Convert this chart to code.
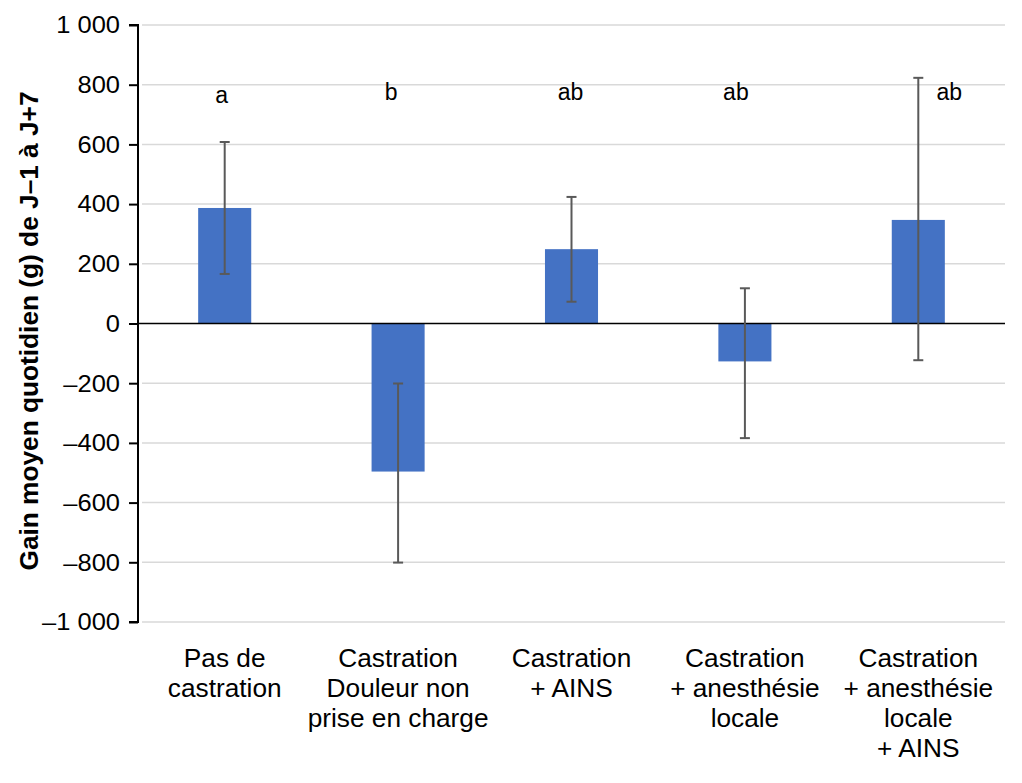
<!DOCTYPE html>
<html>
  <head>
    <meta charset="utf-8" />
    <title>Gain moyen quotidien</title>
    <script src="https://d3js.org/d3.v7.min.js"></script>
    <style>
      body {
        margin: 0;
        background: #fff;
        font-family: 'Liberation Sans', Arial, sans-serif;
      }
      .tick text {
        font-size: 24.5px;
        fill: #000;
      }
      .cat-label {
        font-size: 25px;
        fill: #000;
      }
      .letter {
        font-size: 23px;
        fill: #000;
      }
    </style>
  </head>
  <body>
    <div id="chart"></div>
    <script>
      // données
      const categories = [
        ['Pas de', 'castration'],
        ['Castration', 'Douleur non', 'prise en charge'],
        ['Castration', '+ AINS'],
        ['Castration', '+ anesthésie', 'locale'],
        ['Castration', '+ anesthésie', 'locale', '+ AINS'],
      ];
      const means = [387, -496, 249, -127, 347];
      const errLow = [166, -201, 73, -384, -123];
      const errHigh = [608, -801, 424, 118, 823];
      const letters = ['a', 'b', 'ab', 'ab', 'ab'];
      const yTicks = [-1000, -800, -600, -400, -200, 0, 200, 400, 600, 800, 1000];

      const width = 1022;
      const height = 783;
      const margin = { top: 25, right: 17, bottom: 161, left: 138 };
      const tickStretch = 1.04;
      const catStretch = 1.05;

      const svg = d3
        .select('#chart')
        .append('svg')
        .attr('width', width)
        .attr('height', height);

      const x = d3
        .scaleBand()
        .domain(d3.range(categories.length))
        .range([margin.left, width - margin.right])
        .paddingInner(0.694)
        .paddingOuter(0.347);

      const y = d3
        .scaleLinear()
        .domain([-1000, 1000])
        .range([height - margin.bottom, margin.top]);

      const fmt = (v) => {
        const s = d3.format(',')(Math.abs(v)).replace(/,/g, ' ');
        return v < 0 ? '–' + s : s;
      };

      // grille
      svg
        .append('g')
        .selectAll('line')
        .data(yTicks.filter((d) => d !== 0))
        .join('line')
        .attr('x1', margin.left + 4)
        .attr('x2', width - margin.right)
        .attr('y1', (d) => y(d))
        .attr('y2', (d) => y(d))
        .attr('stroke', '#d9d9d9')
        .attr('stroke-width', 1.5);

      // axe Y
      const yAxis = svg
        .append('g')
        .attr('transform', `translate(${margin.left},0)`)
        .call(
          d3
            .axisLeft(y)
            .tickValues(yTicks)
            .tickFormat(fmt)
            .tickSize(9)
            .tickPadding(9),
        );
      yAxis.select('.domain').attr('stroke', '#000').attr('stroke-width', 2);
      yAxis.selectAll('.tick line').attr('stroke', '#000').attr('stroke-width', 2);
      yAxis
        .selectAll('.tick text')
        .style('font-family', "'Liberation Sans', Arial, sans-serif")
        .attr('x', -18 / tickStretch)
        .attr('transform', `scale(${tickStretch},1)`);
      yAxis.select('.domain').attr('d', `M-9,${y(1000)}H0V${y(-1000)}H-9`);

      // barres
      svg
        .append('g')
        .selectAll('rect')
        .data(means)
        .join('rect')
        .attr('x', (d, i) => x(i))
        .attr('width', x.bandwidth())
        .attr('y', (d) => Math.min(y(d), y(0)))
        .attr('height', (d) => Math.abs(y(d) - y(0)))
        .attr('fill', '#4472c4');

      // ligne zéro
      svg
        .append('line')
        .attr('x1', margin.left)
        .attr('x2', width - margin.right)
        .attr('y1', y(0))
        .attr('y2', y(0))
        .attr('stroke', '#000')
        .attr('stroke-width', 1.5);

      // barres d'erreur
      const err = svg.append('g').attr('stroke', '#595959').attr('stroke-width', 2);
      means.forEach((m, i) => {
        const cx = x(i) + x.bandwidth() / 2;
        err
          .append('line')
          .attr('x1', cx)
          .attr('x2', cx)
          .attr('y1', y(errLow[i]))
          .attr('y2', y(errHigh[i]));
        [errLow[i], errHigh[i]].forEach((v) => {
          err
            .append('line')
            .attr('x1', cx - 5)
            .attr('x2', cx + 5)
            .attr('y1', y(v))
            .attr('y2', y(v));
        });
      });

      // lettres de significativité
      const letterShift = [-3, -7, -1, -9, 31];
      svg
        .append('g')
        .selectAll('text')
        .data(letters)
        .join('text')
        .attr('class', 'letter')
        .attr('x', (d, i) => x(i) + x.bandwidth() / 2 + letterShift[i])
        .attr('y', (d, i) => (i === 0 ? 103 : 100))
        .attr('text-anchor', 'middle')
        .text((d) => d);

      // étiquettes des catégories
      const cat = svg
        .append('g')
        .selectAll('text')
        .data(categories)
        .join('text')
        .attr('class', 'cat-label')
        .attr('text-anchor', 'middle')
        .attr('transform', (d, i) => {
          const cx = x(i) + x.bandwidth() / 2;
          return `translate(${cx},0) scale(${catStretch},1)`;
        });
      cat
        .selectAll('tspan')
        .data((d) => d)
        .join('tspan')
        .attr('x', 0)
        .attr('y', (d, j) => 667 + j * 30)
        .text((d) => d);

      // titre de l'axe Y
      svg
        .append('text')
        .attr('transform', `translate(38,331) rotate(-90) scale(1.05,1)`)
        .attr('text-anchor', 'middle')
        .style('font-size', '25px')
        .style('font-weight', 'bold')
        .text('Gain moyen quotidien (g) de J–1 à J+7');
    </script>
  </body>
</html>
